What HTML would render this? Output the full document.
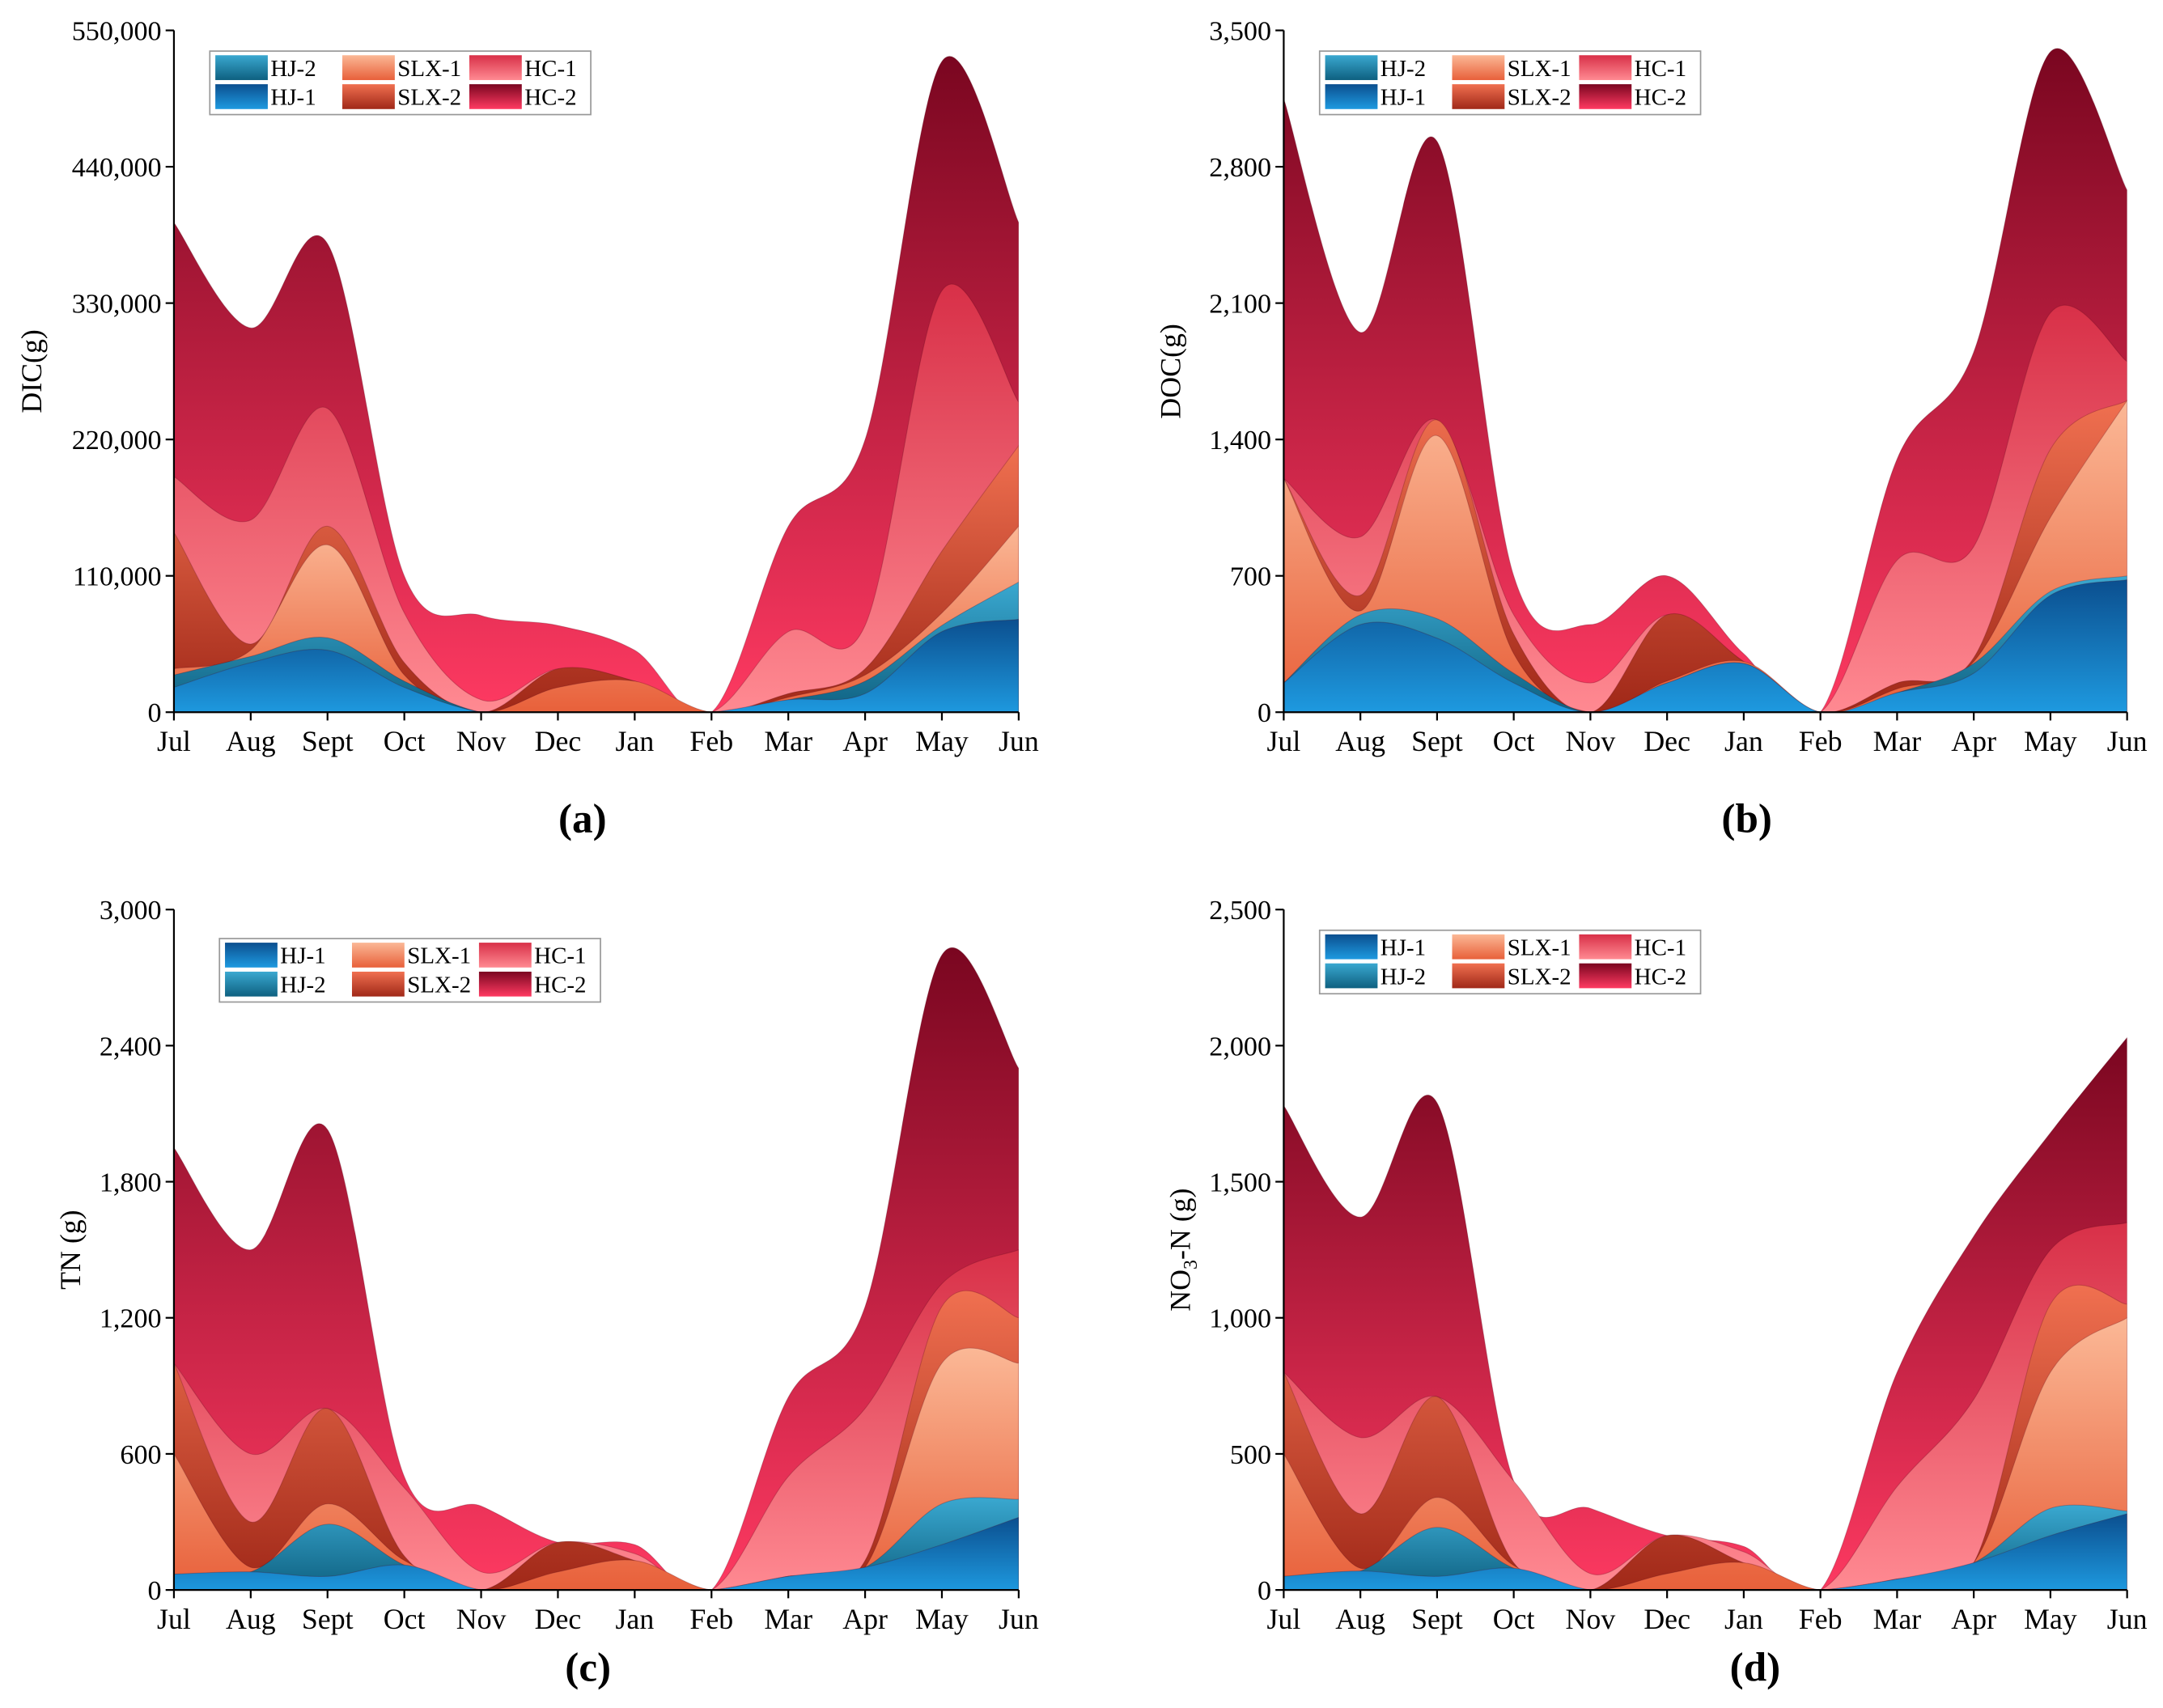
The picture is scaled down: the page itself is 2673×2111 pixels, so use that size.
<!DOCTYPE html>
<html><head><meta charset="utf-8">
<style>
html,body{margin:0;padding:0;background:#fff;}
svg{display:block;font-family:"Liberation Serif","Noto Serif CJK SC",serif;}
</style></head>
<body>
<svg id="chart" width="2673" height="2111" viewBox="0 0 1567 1237.5" xmlns="http://www.w3.org/2000/svg">
<defs>
<linearGradient id="g0" x1="0" y1="0" x2="0" y2="1"><stop offset="0" stop-color="#0b4f8f"/><stop offset="1" stop-color="#1e9ae0"/></linearGradient>
<linearGradient id="g1" x1="0" y1="0" x2="0" y2="1"><stop offset="0" stop-color="#3aa8d0"/><stop offset="1" stop-color="#0e6080"/></linearGradient>
<linearGradient id="g2" x1="0" y1="0" x2="0" y2="1"><stop offset="0" stop-color="#fbb896"/><stop offset="1" stop-color="#e8603a"/></linearGradient>
<linearGradient id="g3" x1="0" y1="0" x2="0" y2="1"><stop offset="0" stop-color="#f07050"/><stop offset="1" stop-color="#a02818"/></linearGradient>
<linearGradient id="g4" x1="0" y1="0" x2="0" y2="1"><stop offset="0" stop-color="#d83048"/><stop offset="1" stop-color="#ff8a92"/></linearGradient>
<linearGradient id="g5" x1="0" y1="0" x2="0" y2="1"><stop offset="0" stop-color="#7a0620"/><stop offset="1" stop-color="#ff3a62"/></linearGradient>
</defs>
</svg>
<script>
const months = ["Jul","Aug","Sept","Oct","Nov","Dec","Jan","Feb","Mar","Apr","May","Jun"];
const seriesNames = ["HJ-1","HJ-2","SLX-1","SLX-2","HC-1","HC-2"];
// Panel a (DIC) individual series values
const a_HJ1 = [20000,40000,50000,20000,0,0,0,0,10000,15000,65000,75000];
const a_HJ2 = [10000,5000,10000,5000,0,0,0,0,0,10000,5000,30000];
const a_SLX1 = [5000,5000,75000,5000,0,20000,25000,0,2000,5000,10000,45000];
const a_SLX2 = [110000,5000,15000,10000,0,15000,0,0,3000,5000,50000,65000];
const a_HC1 = [45000,100000,95000,40000,10000,0,0,0,50000,35000,210000,35000];
const a_HC2 = [205000,155000,133000,30000,68000,35000,25000,0,85000,150000,185000,145000];
// Panel b (DOC)
const b_HJ1 = [150,450,380,150,0,150,250,0,100,200,600,680];
const b_HJ2 = [0,50,100,50,0,0,0,0,0,50,20,20];
const b_SLX1 = [1050,20,940,100,0,10,10,0,20,10,380,900];
const b_SLX2 = [0,80,80,100,0,340,0,0,30,20,350,0];
const b_HC1 = [0,300,0,100,150,0,0,0,630,570,700,200];
const b_HC2 = [1950,1050,1430,200,300,200,40,0,520,1000,1340,880];
// Panel c (TN)
const c_HJ1 = [70,80,60,110,0,0,0,0,60,100,200,320];
const c_HJ2 = [0,0,230,0,0,0,0,0,0,0,180,80];
const c_SLX1 = [530,20,90,20,0,80,130,0,0,0,620,600];
const c_SLX2 = [400,200,420,20,0,130,0,0,0,30,250,200];
const c_HC1 = [0,300,0,300,80,0,30,0,440,670,100,300];
const c_HC2 = [950,900,1230,50,290,0,40,0,350,450,1450,800];
// Panel d (NO3-N)
const d_HJ1 = [50,70,50,80,0,0,0,0,40,100,200,280];
const d_HJ2 = [0,0,180,0,0,0,0,0,0,0,100,10];
const d_SLX1 = [450,10,110,10,0,60,100,0,0,0,500,710];
const d_SLX2 = [300,200,370,10,0,140,0,0,0,0,250,50];
const d_HC1 = [0,280,0,300,60,0,40,0,340,600,200,300];
const d_HC2 = [980,810,1080,0,240,0,20,0,420,600,430,680];

const yTicksA = ["0","110,000","220,000","330,000","440,000","550,000"];
const yTicksB = ["0","700","1,400","2,100","2,800","3,500"];
const yTicksC = ["0","600","1,200","1,800","2,400","3,000"];
const yTicksD = ["0","500","1,000","1,500","2,000","2,500"];

const NS="http://www.w3.org/2000/svg";
const svg=document.getElementById('chart');
const defs=svg.querySelector('defs');
function mk(tag,attrs,parent){const e=document.createElementNS(NS,tag);for(const k in attrs)e.setAttribute(k,attrs[k]);(parent||svg).appendChild(e);return e;}

function smoothPath(pts){
  let d="M"+pts[0][0]+","+pts[0][1];
  for(let i=0;i<pts.length-1;i++){
    const p0=pts[Math.max(0,i-1)],p1=pts[i],p2=pts[i+1],p3=pts[Math.min(pts.length-1,i+2)];
    const c1x=p1[0]+(p2[0]-p0[0])/6,c1y=p1[1]+(p2[1]-p0[1])/6;
    const c2x=p2[0]-(p3[0]-p1[0])/6,c2y=p2[1]-(p3[1]-p1[1])/6;
    d+=" C"+c1x+","+c1y+" "+c2x+","+c2y+" "+p2[0]+","+p2[1];
  }
  return d;
}

let clipId=0;
function panel(cfg){
  const g=mk('g',{});
  
  
  const {x0,x1,y0,y1,max}=cfg;
  const xs=i=>x0+(x1-x0)*i/(months.length-1);
  const ys=v=>y0-(y0-y1)*Math.min(v,max*1.2)/max;
  const cid="clip"+(clipId++);
  const cp=mk('clipPath',{id:cid},defs);
  mk('rect',{x:x0,y:y1-60,width:x1-x0,height:y0-y1+60},cp);
  const ag=mk('g',{"clip-path":"url(#"+cid+")"},g);
  
  
  const cum=[];let run=months.map(()=>0);
  cfg.series.forEach(s=>{run=run.map((r,i)=>r+s[i]);cum.push(run.slice());});
  for(let k=cum.length-1;k>=0;k--){
    const pts=cum[k].map((v,i)=>[xs(i),ys(v)]);
    const d=smoothPath(pts)+" L"+x1+","+y0+" L"+x0+","+y0+" Z";
    const p=mk('path',{d:d,fill:"url(#g"+k+")",stroke:"rgba(80,0,20,0.25)","stroke-width":0.6},ag);
    
    
  }
  const ya=mk('line',{x1:x0,y1:y0,x2:x0,y2:y1,stroke:"#000","stroke-width":1.3},g);
  
  const xa=mk('line',{x1:x0,y1:y0,x2:x1,y2:y0,stroke:"#000","stroke-width":1.3},g);
  
  cfg.ticks.forEach((t,i)=>{
    const y=y0-(y0-y1)*i/(cfg.ticks.length-1);
    mk('line',{x1:x0-6,y1:y,x2:x0,y2:y,stroke:"#000","stroke-width":1.3},g);
    const tx=mk('text',{x:x0-9,y:y+7,"text-anchor":"end","font-size":20},g);
    tx.textContent=t;
    
  });
  months.forEach((m,i)=>{
    mk('line',{x1:xs(i),y1:y0,x2:xs(i),y2:y0+6,stroke:"#000","stroke-width":1.3},g);
    const tx=mk('text',{x:xs(i),y:y0+28,"text-anchor":"middle","font-size":21},g);
    tx.textContent=m;
    
  });
  const yt=mk('text',{x:0,y:0,"text-anchor":"middle","font-size":21,transform:"translate("+cfg.ytx+","+((y0+y1)/2)+") rotate(-90)"},g);
  yt.innerHTML=cfg.ytitle;
  
  const lab=mk('text',{x:(x0+x1)/2-(cfg.labShift||0),y:cfg.laby,"text-anchor":"middle","font-size":30,"font-weight":"bold"},g);
  lab.textContent=cfg.label;
  
  const lg=mk('g',{},g);
  
  const lx=cfg.lx,ly=cfg.ly;
  mk('rect',{x:lx,y:ly,width:276,height:46,fill:"#fff",stroke:"#999","stroke-width":1},lg);
  cfg.legOrder.forEach((idx,j)=>{
    const col=Math.floor(j/2),row=j%2;
    const bx=lx+4+col*92,by=ly+3+row*21;
    mk('rect',{x:bx,y:by,width:38,height:18,fill:"url(#g"+idx+")"},lg);
    const t=mk('text',{x:bx+40,y:by+15,"font-size":17},lg);
    t.textContent=seriesNames[idx];
    
  });
}

panel({name:"panel-a",x0:126,x1:738,y0:516,y1:22,max:550000,series:[a_HJ1,a_HJ2,a_SLX1,a_SLX2,a_HC1,a_HC2],ticks:yTicksA,ytx:30,ytitle:"DIC(g)",label:"(a)",laby:603,labShift:10,lx:152,ly:37,legOrder:[1,0,2,3,4,5]});
panel({name:"panel-b",x0:930,x1:1541,y0:516,y1:22,max:3500,series:[b_HJ1,b_HJ2,b_SLX1,b_SLX2,b_HC1,b_HC2],ticks:yTicksB,ytx:855,ytitle:"DOC(g)",label:"(b)",laby:603,labShift:-30,lx:956,ly:37,legOrder:[1,0,2,3,4,5]});
panel({name:"panel-c",x0:126,x1:738,y0:1152,y1:659,max:3000,series:[c_HJ1,c_HJ2,c_SLX1,c_SLX2,c_HC1,c_HC2],ticks:yTicksC,ytx:58,ytitle:"TN (g)",label:"(c)",laby:1218,labShift:6,lx:159,ly:680,legOrder:[0,1,2,3,4,5]});
panel({name:"panel-d",x0:930,x1:1541,y0:1152,y1:659,max:2500,series:[d_HJ1,d_HJ2,d_SLX1,d_SLX2,d_HC1,d_HC2],ticks:yTicksD,ytx:862,ytitle:"NO<tspan font-size='14' dy='5'>3</tspan><tspan dy='-5'>-N (g)</tspan>",label:"(d)",laby:1218,labShift:-36,lx:956,ly:674,legOrder:[0,1,2,3,4,5]});
</script>
</body></html>
